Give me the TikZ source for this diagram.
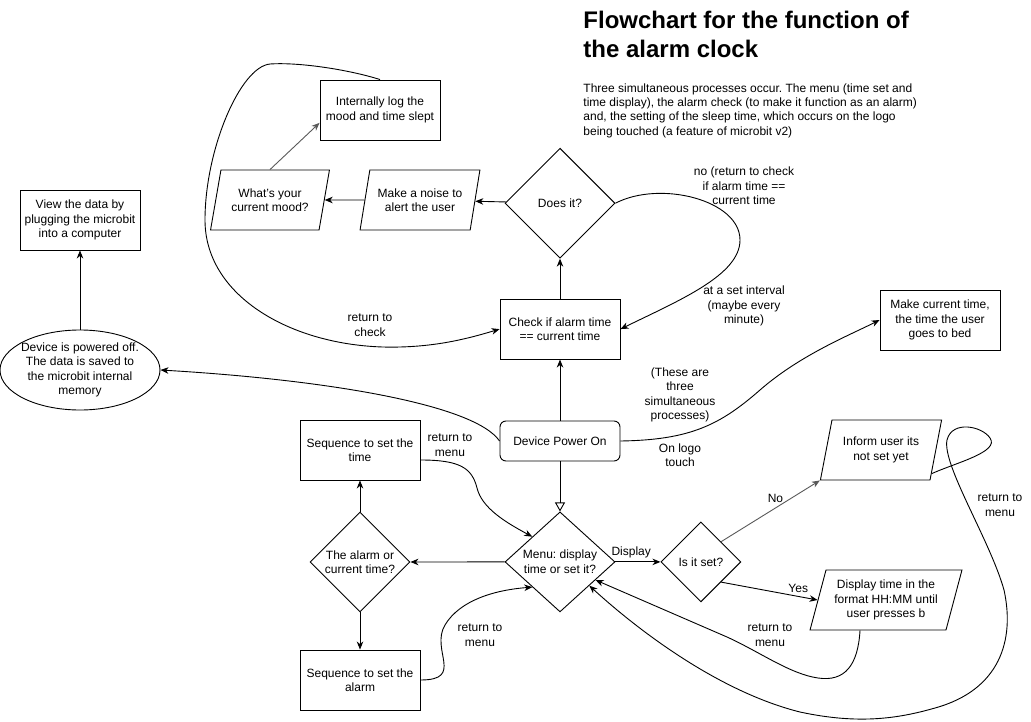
\documentclass[tikz,border=0pt]{standalone}
\usepackage{fontspec}
\setmainfont{Liberation Sans}
\usetikzlibrary{arrows.meta,shapes.geometric,positioning}
\definecolor{linegrey}{HTML}{595959}
\frenchspacing

\begin{document}
\begin{tikzpicture}[x=1pt,y=-1pt,>={Stealth[length=8pt,width=6.5pt,inset=2.5pt]},line width=0.9pt,node distance=50pt,
    every node/.style={font=\fontsize{12}{14.5}\selectfont,align=center},
    box/.style={draw,rectangle,minimum width=120pt,minimum height=60pt,inner sep=2pt},
    start/.style={draw,rectangle,rounded corners=6pt,minimum width=120pt,minimum height=40pt},
    decide/.style={draw,diamond,inner sep=0pt},
    io/.style={draw,trapezium,trapezium left angle=71.6,trapezium right angle=108.4,
        trapezium stretches=true,minimum width=120pt,minimum height=60pt,inner sep=1pt},
    store/.style={draw,ellipse,minimum width=160pt,minimum height=80pt,inner sep=-3pt},
    lbl/.style={font=\fontsize{12}{14.5}\selectfont}]
   \useasboundingbox (0,0) rectangle (1031,722);

   % title and notes
   \node[anchor=north west,align=left,inner sep=0pt,font=\fontsize{24}{29}\selectfont\bfseries] (title) at (583,11) {Flowchart for the function of\\the alarm clock};
   \node[anchor=north west,align=left,inner sep=0pt,font=\fontsize{12}{14.3}\selectfont] (notes) at (583,83) {Three simultaneous processes occur. The menu (time set and\\time display), the alarm check (to make it function as an alarm)\\and, the setting of the sleep time, which occurs on the logo\\being touched (a feature of microbit v2)};

   % alarm check
   \node[start] (pwr) at (560,441) {Device Power On};
   \node[box] (chk) [above=61pt of pwr] {Check if alarm time\\== current time};
   \node[decide,minimum width=110pt,minimum height=110pt] (does) [above=40pt of chk] {Does it?};
   \node[io] (noise) at (420,200) {Make a noise to\\alert the user};
   \node[io] (mood) at (270,200) {What's your\\current mood?};
   \node[box] (intl) at (380,110) {Internally log the\\mood and time slept};
   \node[box] (view) at (80,220) {View the data by\\plugging the microbit\\into a computer};
   \node[store] (off) at (80,370) {Device is powered off.\\The data is saved to\\the microbit internal\\memory};
   \node[box] (bed) at (940,320) {Make current time,\\the time the user\\goes to bed};

   % menu
   \node[decide,minimum width=110pt,minimum height=100pt] (menu) [below=50pt of pwr] {Menu: display\\time or set it?};
   \node[decide,minimum width=100pt,minimum height=100pt] (which) at (360,562) {The alarm or\\current time?};
   \node[box] (seqt) at (360,450) {Sequence to set the\\time};
   \node[box] (seqa) at (360,680) {Sequence to set the\\alarm};
   \node[decide,minimum width=80pt,minimum height=80pt] (isset) [right=45pt of menu] {Is it set?};
   \node[io,minimum width=122pt] (inform) at (881,450) {Inform user its\\not set yet};
   \node[io,minimum width=152pt] (disp) at (886,600) {Display time in the\\format HH:MM until\\user presses b};

   \path[->]
      (pwr) edge (chk)
      (chk) edge (does)
      (does) edge (noise)
      (noise) edge (mood)
      (mood.north) edge [draw=linegrey] (intl.-168)
      (off) edge (view)
      (menu) edge (which)
      (which) edge (seqt)
      (which) edge (seqa)
      (menu) edge node[lbl,above,pos=0.35] {Display} (isset)
      (isset.north east) edge [draw=linegrey] node[lbl,above=2pt,pos=0.55] {No} (inform.bottom left corner)
      (isset.south east) edge node[lbl,above,pos=0.8] {Yes} (disp.west);
   \draw[-{Triangle[open,length=9pt,width=10pt]}] (pwr) -- (menu);

   % loops
   \draw[->] (intl.north) .. controls (350,70) and (300,62) .. (270,64)
      .. controls (240,67) and (205,150) .. (205,220)
      .. controls (205,300) and (300,350) .. (400,347)
      .. controls (440,346) and (470,338) .. (chk.west);
   \draw[->] (does.east) .. controls (660,180) and (740,200) .. (740,240)
      .. controls (740,275) and (680,300) .. (chk.east);
   \draw[->] (pwr.west) .. controls (475,405) and (330,380) .. (off.east);
   \draw[->] (pwr.east) .. controls (690,440) and (720,425) .. (760,390)
      .. controls (800,355) and (850,335) .. (bed.west);
   \draw[->] ([yshift=-10pt]seqt.east) .. controls (460,460) and (472,468) .. (477,488)
      .. controls (482,508) and (505,522) .. (menu.north west);
   \draw[->] (seqa.east) .. controls (465,680) and (430,650) .. (445,625)
      .. controls (460,600) and (495,590) .. (menu.south west);
   \draw[->] ([xshift=-26pt]disp.south) .. controls (858,665) and (845,682) .. (818,678)
      .. controls (790,674) and (760,652) .. (727,637) -- (menu.-27);
   \draw[->] (inform.-25) .. controls (955,463) and (1000,452) .. (990,438)
      .. controls (982,426) and (952,420) .. (947,440)
      .. controls (942,465) and (990,540) .. (1004,590)
      .. controls (1015,640) and (1000,690) .. (935,708)
      .. controls (900,718) and (860,725) .. (800,712)
      .. controls (720,692) and (640,632) .. (menu.-39);

   % labels
   \node[lbl] (rchk) at (370,325) {return to\\check};
   \node[lbl] (rno) at (744,186) {no (return to check\\if alarm time ==\\current time};
   \node[lbl] (rint) at (744,306) {at a set interval\\(maybe every\\minute)};
   \node[lbl] (three) at (680,395) {(These are\\three\\simultaneous\\processes)};
   \node[lbl] (logo) at (680,455) {On logo\\touch};
   \node[lbl] (rmt) at (450,445) {return to\\menu};
   \node[lbl] (rma) at (480,635) {return to\\menu};
   \node[lbl] (rmd) at (770,635) {return to\\menu};
   \node[lbl] (rmi) at (1000,505) {return to\\menu};
\end{tikzpicture}
\end{document}
